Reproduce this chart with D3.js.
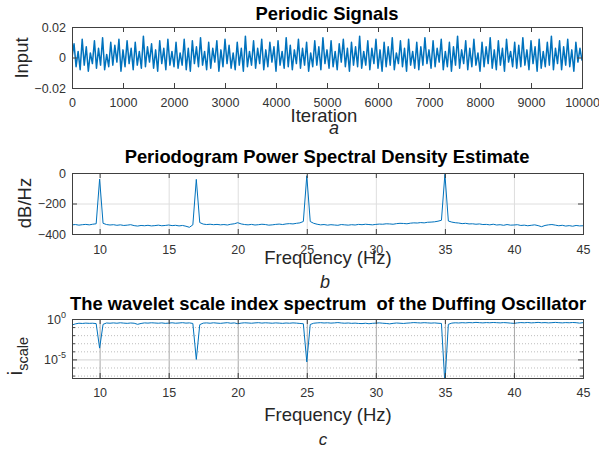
<!DOCTYPE html>
<html>
<head>
<meta charset="utf-8">
<script src="https://cdn.jsdelivr.net/npm/d3@7"></script>
<style>
body { margin: 0; background: #fff; }
svg { font-family: "Liberation Sans", Arial, sans-serif; }
.tick text { font-size: 12.5px; fill: #333; }
</style>
</head>
<body>
<svg id="chart" width="599" height="455"></svg>
<script>
// ---------------- data ----------------
// panel a : input signal, one sample every 40 iterations, values in 1e-3
var inputStep = 40;
var inputMilli = [
	0, 9, -6, 4, -8, 12, -5, 7, -9, 3,
	-4, 11, -7, 6, -5, 13, -8, 2, -6, 10,
	-5, 8, -3, 12, -9, 5, -6, 11, -4, 6,
	-8, 10, -5, 4, -7, 14, -6, 7, -3, 9,
	-7, 5, -9, 11, -4, 6, -8, 12, -5, 4,
	-6, 10, -7, 3, -5, 12, -8, 6, -9, 11,
	-4, 7, -6, 13, -5, 4, -8, 10, -7, 6,
	-3, 11, -9, 5, -6, 12, -4, 8, -7, 3,
	-8, 10, -5, 6, -9, 14, -6, 4, -5, 11,
	-7, 6, -4, 12, -8, 5, -6, 10, -3, 7,
	-9, 11, -5, 4, -7, 13, -6, 8, -8, 5,
	-4, 12, -7, 6, -5, 10, -9, 3, -6, 11,
	-5, 7, -8, 13, -4, 5, -7, 11, -6, 4,
	-8, 9, -3, 12, -6, 6, -9, 10, -5, 7,
	-6, 14, -7, 4, -5, 11, -8, 6, -4, 12,
	-7, 5, -9, 10, -6, 7, -5, 13, -8, 3,
	-4, 11, -6, 6, -9, 12, -5, 4, -7, 10,
	-8, 7, -5, 13, -4, 5, -7, 11, -6, 6,
	-3, 12, -8, 4, -6, 10, -9, 7, -5, 14,
	-7, 5, -4, 11, -8, 6, -6, 12, -5, 3,
	-9, 10, -6, 7, -4, 13, -7, 5, -8, 11,
	-5, 6, -9, 12, -3, 4, -6, 10, -7, 8,
	-6, 13, -5, 5, -8, 11, -4, 7, -9, 12,
	-7, 4, -6, 10, -5, 14, -8, 6, -4, 11,
	-8, 7, -5, 12, -6, 5, -9, 10, -3, 6,
	-2
];

// panels b and c share the frequency grid : 8 Hz .. 45 Hz, step 0.25 Hz
var freqStart = 8;
var freqStep = 0.25;

// panel b : periodogram, dB/Hz (4 values per Hz)
var psdDb = [
	-340, -338, -342, -339,   // 8
	-337, -340, -336, -333,   // 9
	-40, -330, -338, -341,    // 10
	-339, -343, -340, -344,   // 11
	-342, -339, -345, -348,   // 12
	-344, -346, -343, -347,   // 13
	-345, -342, -346, -344,   // 14
	-341, -345, -343, -347,   // 15
	-344, -349, -356, -340,   // 16
	-42, -325, -335, -338,    // 17
	-336, -339, -337, -340,   // 18
	-338, -341, -336, -333,   // 19
	-326, -334, -338, -340,   // 20
	-337, -341, -339, -336,   // 21
	-338, -342, -340, -337,   // 22
	-335, -338, -334, -332,   // 23
	-334, -330, -327, -318,   // 24
	-18, -318, -330, -336,    // 25
	-340, -338, -342, -339,   // 26
	-341, -343, -338, -340,   // 27
	-342, -339, -341, -337,   // 28
	-339, -336, -338, -340,   // 29
	-337, -335, -336, -333,   // 30
	-334, -336, -332, -330,   // 31
	-331, -333, -329, -327,   // 32
	-328, -325, -327, -323,   // 33
	-322, -320, -316, -310,   // 34
	-8, -315, -322, -326,     // 35
	-328, -332, -330, -334,   // 36
	-333, -336, -334, -338,   // 37
	-337, -340, -336, -341,   // 38
	-339, -343, -338, -342,   // 39
	-341, -339, -344, -342,   // 40
	-346, -343, -340, -345,   // 41
	-352, -344, -340, -338,   // 42
	-342, -346, -343, -348,   // 43
	-345, -349, -344, -347,   // 44
	-346                      // 45
];

// panel c : wavelet scale index
var scaleIndex = [
	0.18, 0.25, 0.30, 0.28,   // 8
	0.31, 0.29, 0.30, 0.27,   // 9
	2.5e-4, 0.22, 0.32, 0.30, // 10
	0.33, 0.30, 0.34, 0.31,   // 11
	0.29, 0.32, 0.30, 0.22,   // 12
	0.28, 0.33, 0.31, 0.34,   // 13
	0.32, 0.30, 0.33, 0.29,   // 14
	0.31, 0.34, 0.30, 0.32,   // 15
	0.35, 0.31, 0.33, 0.28,   // 16
	1.0e-5, 0.20, 0.31, 0.33, // 17
	0.30, 0.34, 0.31, 0.29,   // 18
	0.32, 0.35, 0.30, 0.33,   // 19
	0.26, 0.31, 0.34, 0.32,   // 20
	0.30, 0.33, 0.35, 0.31,   // 21
	0.34, 0.32, 0.30, 0.33,   // 22
	0.31, 0.29, 0.32, 0.30,   // 23
	0.33, 0.31, 0.28, 0.26,   // 24
	5.0e-6, 0.21, 0.30, 0.33, // 25
	0.35, 0.32, 0.34, 0.31,   // 26
	0.33, 0.36, 0.32, 0.30,   // 27
	0.32, 0.29, 0.31, 0.28,   // 28
	0.27, 0.30, 0.26, 0.29,   // 29
	0.31, 0.33, 0.30, 0.28,   // 30
	0.25, 0.29, 0.32, 0.30,   // 31
	0.28, 0.31, 0.33, 0.36,   // 32
	0.34, 0.32, 0.35, 0.33,   // 33
	0.31, 0.33, 0.30, 0.28,   // 34
	1.0e-8, 0.22, 0.31, 0.34, // 35
	0.32, 0.35, 0.33, 0.36,   // 36
	0.34, 0.38, 0.35, 0.33,   // 37
	0.36, 0.34, 0.37, 0.35,   // 38
	0.33, 0.36, 0.34, 0.31,   // 39
	0.29, 0.33, 0.36, 0.34,   // 40
	0.37, 0.33, 0.35, 0.38,   // 41
	0.34, 0.36, 0.33, 0.35,   // 42
	0.38, 0.35, 0.33, 0.36,   // 43
	0.34, 0.37, 0.35, 0.31,   // 44
	0.35                      // 45
];

// ticks
var iterTicks = [0, 1000, 2000, 3000, 4000, 5000, 6000, 7000, 8000, 9000, 10000];
var inputTicks = [-0.02, 0, 0.02];
var freqTicks = [10, 15, 20, 25, 30, 35, 40, 45];
var psdTicks = [-400, -200, 0];
var scaleMajorExp = [-5, 0];
var scaleMinorExp = [-7, -6, -4, -3, -2, -1];

// ---------------- drawing ----------------
var svg = d3.select("svg#chart");
var lineColor = "#0072BD";
var boxColor = "#404040";
var titleSize = 18.4;
var labelSize = 18.5;

var xA = d3.scaleLinear().domain([0, 10000]).range([72, 582]);
var yA = d3.scaleLinear().domain([-0.02, 0.02]).range([88, 27]);
var xB = d3.scaleLinear().domain([8, 45]).range([72, 583]);
var yB = d3.scaleLinear().domain([-400, 0]).range([234, 173]);
var xC = d3.scaleLinear().domain([8, 45]).range([72, 583]);
var yC = d3.scaleLog().domain([Math.pow(10, -7.3), 1]).range([378, 319]);

// clip a panel's plot box
var clipId = 0;
var fn_clip = function(x, y) {
	clipId++;
	svg.append("clipPath").attr("id", "clip" + clipId)
	.append("rect")
	.attr("x", x.range()[0]).attr("y", y.range()[1])
	.attr("width", x.range()[1] - x.range()[0])
	.attr("height", y.range()[0] - y.range()[1]);
	return "url(#clip" + clipId + ")";
}; // fn_clip

// grid lines (tick lines stretched across the box)
var fn_grid = function(axisFn, scale, vals, len, pos, color, dash) {
	var g = svg.append("g").attr("transform", pos)
	.call(axisFn(scale).tickValues(vals).tickSize(-len).tickFormat(""));
	g.select(".domain").remove();
	g.selectAll("line").attr("stroke", color).attr("stroke-dasharray", dash || null);
}; // fn_grid

// inward ticks on all four sides, labels on bottom and left
var fn_axes = function(x, y, xTicks, yTicks, xPad, yFmt) {
	var bottom = y.range()[0], top = y.range()[1];
	var left = x.range()[0], right = x.range()[1];
	var axes = svg.append("g");

	axes.append("g")
	.attr("transform", "translate(0," + bottom + ")")
	.call(d3.axisBottom(x).tickValues(xTicks).tickSizeInner(-5).tickSizeOuter(0)
	.tickPadding(xPad).tickFormat(d3.format("d")));

	axes.append("g")
	.attr("transform", "translate(0," + top + ")")
	.call(d3.axisTop(x).tickValues(xTicks).tickSizeInner(-5).tickSizeOuter(0).tickFormat(""));

	axes.append("g")
	.attr("transform", "translate(" + left + ",0)")
	.call(d3.axisLeft(y).tickValues(yTicks).tickSizeInner(-5).tickSizeOuter(0)
	.tickPadding(6).tickFormat(yFmt));

	axes.append("g")
	.attr("transform", "translate(" + right + ",0)")
	.call(d3.axisRight(y).tickValues(yTicks).tickSizeInner(-5).tickSizeOuter(0).tickFormat(""));

	axes.selectAll(".domain").remove();
	axes.selectAll(".tick line").attr("stroke", boxColor);

	axes.append("rect")
	.attr("x", left + 0.5).attr("y", top + 0.5)
	.attr("width", right - left).attr("height", bottom - top)
	.attr("fill", "none").attr("stroke", boxColor).attr("stroke-width", 1);
	return axes;
}; // fn_axes

var fn_text = function(txt, x, y, size, opts) {
	opts = opts || {};
	var t = svg.append("text")
	.attr("x", x).attr("y", y)
	.attr("text-anchor", "middle")
	.attr("font-size", size + "px")
	.attr("fill", opts.fill || "#262626")
	.attr("font-weight", opts.bold ? "bold" : "normal")
	.attr("font-style", opts.italic ? "italic" : "normal")
	.style("white-space", "pre")
	.text(txt);
	if (opts.rotate) t.attr("transform", "rotate(-90," + x + "," + y + ")");
	return t;
}; // fn_text

// ---- panel a ----
var sigData = inputMilli.map(function(v, i) { return {it: i * inputStep, v: v / 1000}; });

svg.append("path")
.datum(sigData)
.attr("clip-path", fn_clip(xA, yA))
.attr("fill", "none")
.attr("stroke", lineColor)
.attr("stroke-width", 1.5)
.attr("stroke-linejoin", "round")
.attr("d", d3.line().x(function(d) { return xA(d.it); }).y(function(d) { return yA(d.v); }));

fn_axes(xA, yA, iterTicks, inputTicks, 10, function(d) { return d === 0 ? "0" : d3.format(".2f")(d); });

fn_text("Periodic Signals", 327, 20, titleSize, {bold: true, fill: "#000"});
fn_text("Input", 28, 58, labelSize, {rotate: true});
fn_text("Iteration", 324, 122, labelSize);
fn_text("a", 334, 134, 18, {italic: true});

// ---- panel b ----
var psdData = psdDb.map(function(v, i) { return {f: freqStart + i * freqStep, v: v}; });

fn_grid(d3.axisBottom, xB, freqTicks, yB.range()[0] - yB.range()[1],
	"translate(0," + yB.range()[0] + ")", "#dedede");
fn_grid(d3.axisLeft, yB, [-200], xB.range()[1] - xB.range()[0],
	"translate(" + xB.range()[0] + ",0)", "#dedede");

svg.append("path")
.datum(psdData)
.attr("clip-path", fn_clip(xB, yB))
.attr("fill", "none")
.attr("stroke", lineColor)
.attr("stroke-width", 1)
.attr("d", d3.line().x(function(d) { return xB(d.f); }).y(function(d) { return yB(d.v); }));

fn_axes(xB, yB, freqTicks, psdTicks, 11, d3.format("d"));

fn_text("Periodogram Power Spectral Density Estimate", 327, 163, titleSize, {bold: true, fill: "#000"});
fn_text("dB/Hz", 31, 203, labelSize, {rotate: true});
fn_text("Frequency (Hz)", 328, 264, labelSize);
fn_text("b", 325, 288, 18, {italic: true});

// ---- panel c ----
var sciData = scaleIndex.map(function(v, i) { return {f: freqStart + i * freqStep, v: v}; });
var minorVals = scaleMinorExp.map(function(e) { return Math.pow(10, e); });
var majorVals = scaleMajorExp.map(function(e) { return Math.pow(10, e); });
var cWidth = xC.range()[1] - xC.range()[0];

fn_grid(d3.axisBottom, xC, freqTicks, yC.range()[0] - yC.range()[1],
	"translate(0," + yC.range()[0] + ")", "#a8a8a8");
fn_grid(d3.axisLeft, yC, minorVals, cWidth, "translate(" + xC.range()[0] + ",0)", "#bdbdbd", "1,2");
fn_grid(d3.axisLeft, yC, [1e-5], cWidth, "translate(" + xC.range()[0] + ",0)", "#d4d4d4");

svg.append("path")
.datum(sciData)
.attr("clip-path", fn_clip(xC, yC))
.attr("fill", "none")
.attr("stroke", lineColor)
.attr("stroke-width", 1)
.attr("d", d3.line().x(function(d) { return xC(d.f); }).y(function(d) { return yC(d.v); }));

var axesC = fn_axes(xC, yC, freqTicks, majorVals, 10, function() { return ""; });

// small ticks on the left and right edges at the minor decades
axesC.append("g")
.attr("transform", "translate(" + xC.range()[0] + ",0)")
.call(d3.axisLeft(yC).tickValues(minorVals).tickSizeInner(-3).tickSizeOuter(0).tickFormat(""))
.call(function(g) { g.select(".domain").remove(); g.selectAll("line").attr("stroke", boxColor); });
axesC.append("g")
.attr("transform", "translate(" + xC.range()[1] + ",0)")
.call(d3.axisRight(yC).tickValues(minorVals).tickSizeInner(-3).tickSizeOuter(0).tickFormat(""))
.call(function(g) { g.select(".domain").remove(); g.selectAll("line").attr("stroke", boxColor); });

// 10^e labels
scaleMajorExp.forEach(function(e) {
	var t = svg.append("text")
	.attr("x", 66).attr("y", yC(Math.pow(10, e)) + 5)
	.attr("text-anchor", "end")
	.attr("font-size", "12.5px")
	.attr("fill", "#333");
	t.append("tspan").text("10");
	t.append("tspan").attr("dy", -6).attr("font-size", "9px").text(e);
}); // forEach

fn_text("The wavelet scale index spectrum  of the Duffing Oscillator", 328, 310, titleSize, {bold: true, fill: "#000"});
var yl = fn_text("i", 22, 356, 20, {rotate: true});
yl.append("tspan").attr("dy", 6).attr("font-size", "14.5px").text("scale");
fn_text("Frequency (Hz)", 328, 421, labelSize);
fn_text("c", 323, 445, 17, {italic: true});
</script>
</body>
</html>
